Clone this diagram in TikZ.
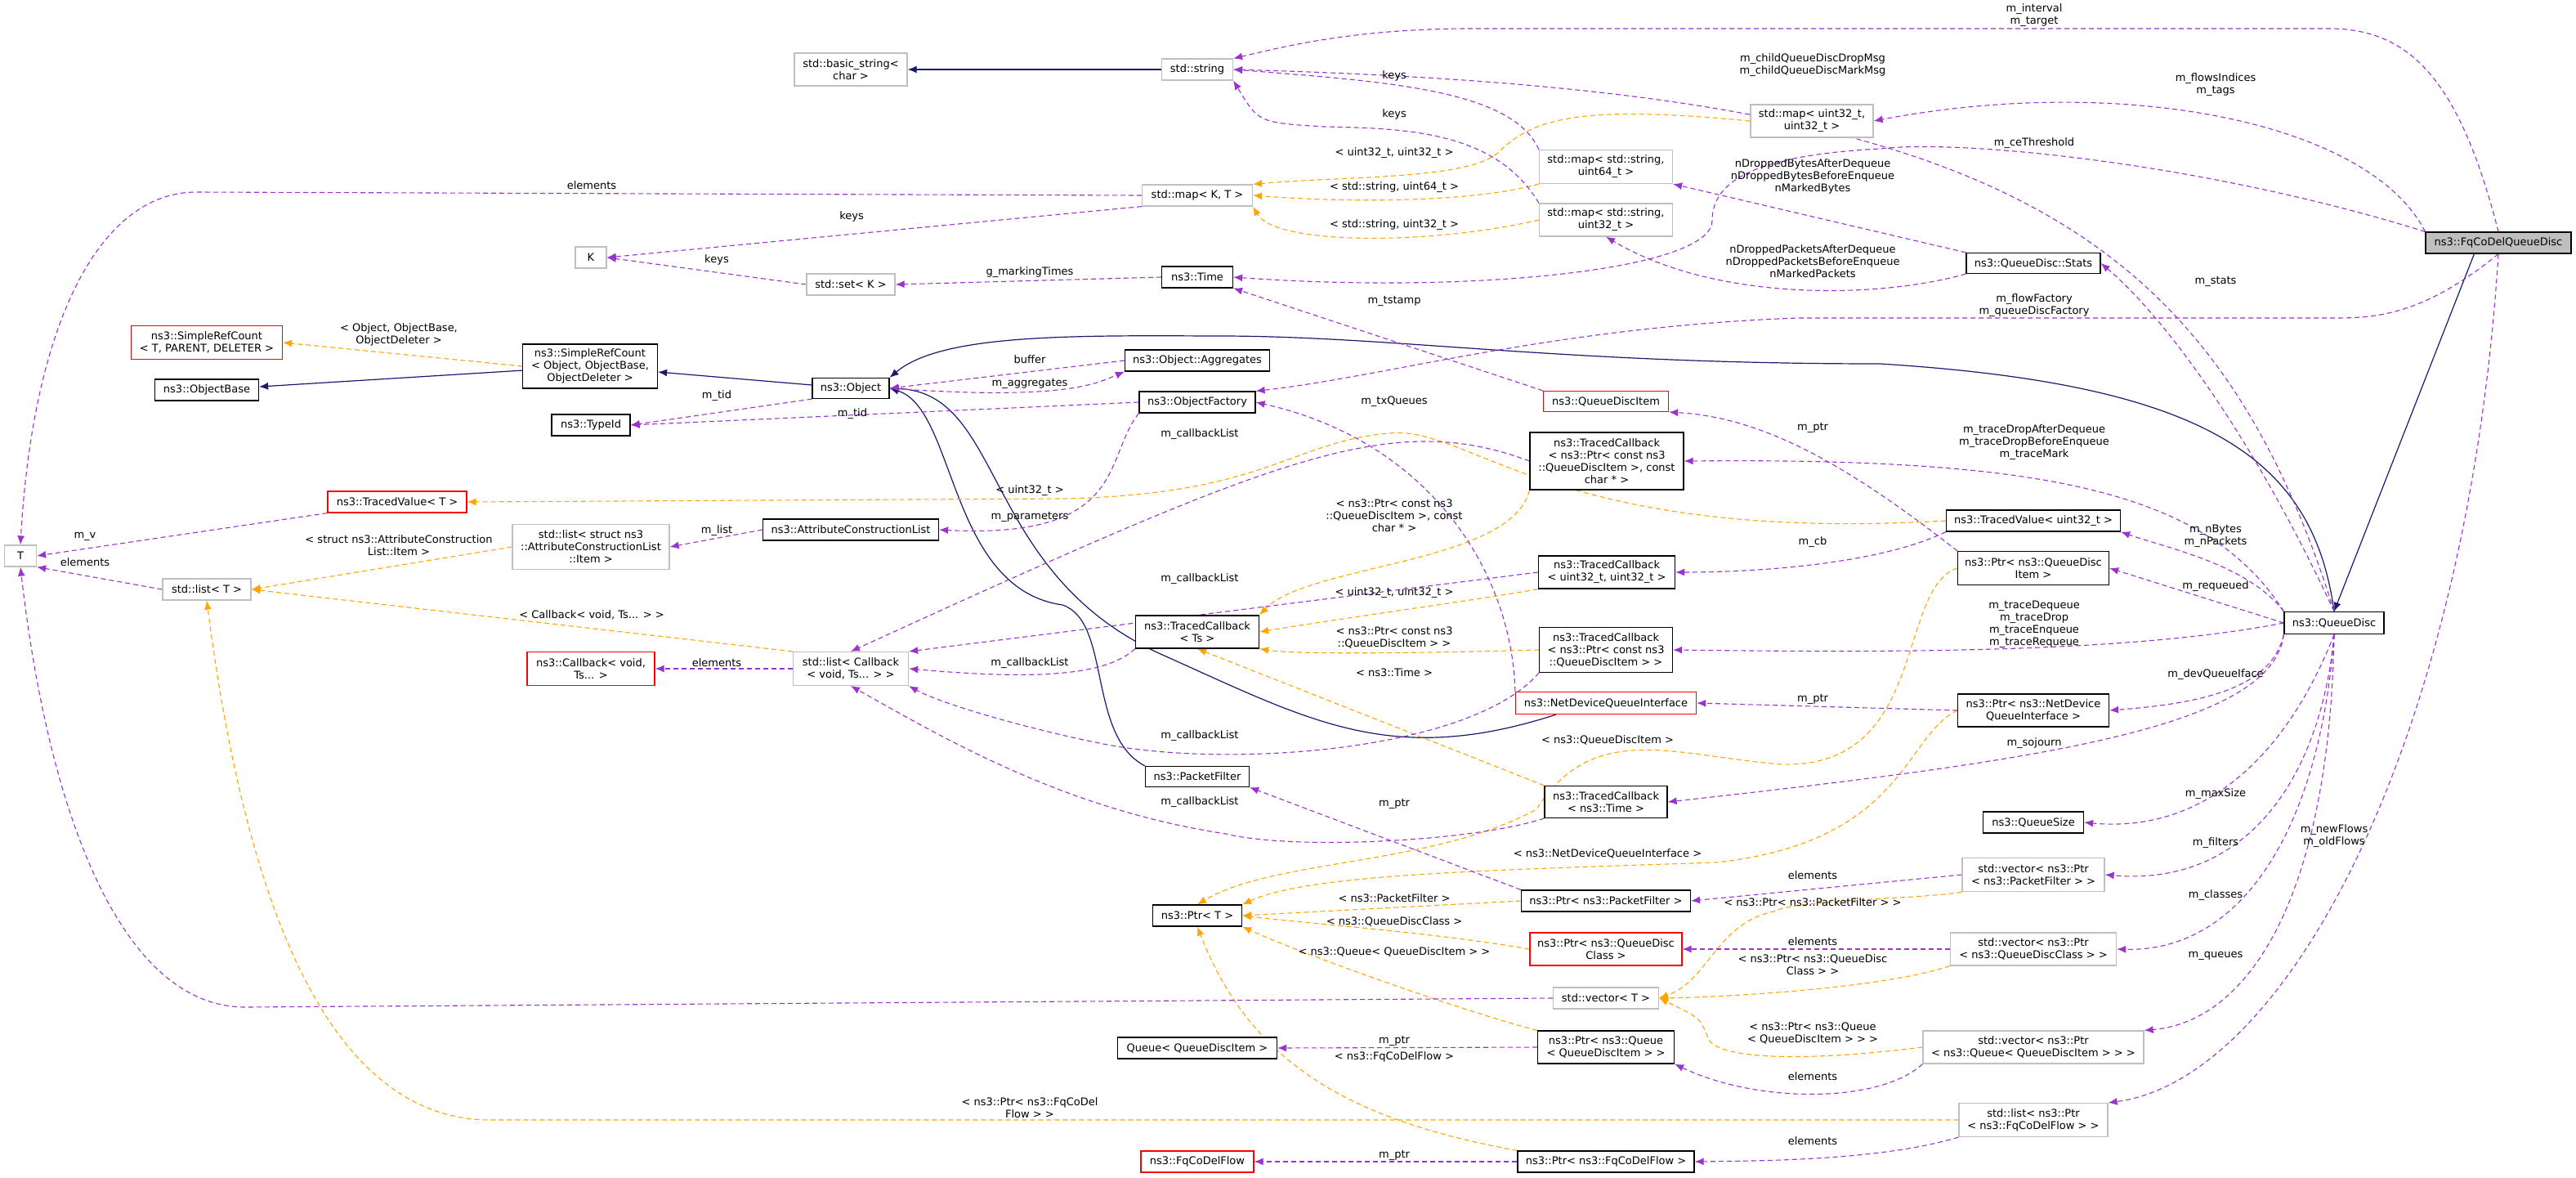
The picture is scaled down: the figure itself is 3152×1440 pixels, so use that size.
\documentclass[tikz,border=0pt]{standalone}
\usepackage{fontspec}
\setmainfont{DejaVu Sans}
\usetikzlibrary{arrows.meta}
\pgfdeclarelayer{bg}
\pgfsetlayers{bg,main}
\definecolor{pur}{HTML}{9A32CD}
\definecolor{org}{HTML}{FFA500}
\definecolor{nav}{HTML}{191970}
\definecolor{gb}{HTML}{BFBFBF}
\begin{document}
\begin{tikzpicture}[x=1pt,y=-1pt,
  base/.style={draw,line width=1.2pt,align=center,inner sep=2pt,font=\fontsize{13}{15}\selectfont,fill=white},
  nb/.style={base,draw=black},
  ng/.style={base,draw=gb},
  nr/.style={base,draw=red},
  lbl/.style={align=center,font=\fontsize{13}{15}\selectfont,inner sep=0pt},
  mem/.style={draw=pur,line width=1.1pt,dash pattern=on 6pt off 4pt,-{Latex[length=11pt,width=9pt]}},
  tpl/.style={draw=org,line width=1.1pt,dash pattern=on 6pt off 4pt,-{Latex[length=11pt,width=9pt]}},
  inh/.style={draw=nav,line width=1.2pt,-{Latex[length=11pt,width=9pt]}}]
\useasboundingbox (0,0) rectangle (3152,1440);
% nodes
\node[ng,minimum width=138,minimum height=40] (bs) at (1041,85) {std::basic\_string\textless\\char \textgreater};
\node[ng,minimum width=87,minimum height=26] (str) at (1465,85) {std::string};
\node[ng,minimum width=135,minimum height=26] (mapKT) at (1465,239) {std::map\textless{} K, T \textgreater};
\node[ng,minimum width=38,minimum height=26] (K) at (723,315) {K};
\node[ng,minimum width=108,minimum height=26] (setK) at (1041,348) {std::set\textless{} K \textgreater};
\node[ng,minimum width=163,minimum height=41] (m64) at (1965,204) {std::map\textless{} std::string,\\uint64\_t \textgreater};
\node[ng,minimum width=163,minimum height=40] (m32) at (1965,269) {std::map\textless{} std::string,\\uint32\_t \textgreater};
\node[ng,minimum width=150,minimum height=40] (mu32) at (2217,148) {std::map\textless{} uint32\_t,\\uint32\_t \textgreater};
\node[nb,minimum width=87,minimum height=26] (time) at (1465,339) {ns3::Time};
\node[nb,minimum width=178,minimum height=26,fill=gb] (fq) at (3057,297) {ns3::FqCoDelQueueDisc};
\node[nb,minimum width=164,minimum height=25] (stats) at (2488,322) {ns3::QueueDisc::Stats};
\node[nr,minimum width=185,minimum height=41] (srcT) at (253,419) {ns3::SimpleRefCount\\\textless{} T, PARENT, DELETER \textgreater};
\node[nb,minimum width=165,minimum height=54] (src) at (722,448) {ns3::SimpleRefCount\\\textless{} Object, ObjectBase,\\ObjectDeleter \textgreater};
\node[nb,minimum width=127,minimum height=26] (ob) at (253,477) {ns3::ObjectBase};
\node[nb,minimum width=94,minimum height=25] (obj) at (1041,475) {ns3::Object};
\node[nb,minimum width=96,minimum height=26] (tid) at (723,520) {ns3::TypeId};
\node[nb,minimum width=177,minimum height=26] (agg) at (1465,441) {ns3::Object::Aggregates};
\node[nb,minimum width=142,minimum height=26] (fac) at (1465,492) {ns3::ObjectFactory};
\node[nr,minimum width=153,minimum height=25] (qdi) at (1965,491) {ns3::QueueDiscItem};
\node[nr,minimum width=170,minimum height=26] (tvT) at (486,614) {ns3::TracedValue\textless{} T \textgreater};
\node[ng,minimum width=39,minimum height=26] (T) at (25,680) {T};
\node[ng,minimum width=192,minimum height=55] (lai) at (723,669) {std::list\textless{} struct ns3\\::AttributeConstructionList\\::Item \textgreater};
\node[nb,minimum width=215,minimum height=26] (acl) at (1041,648) {ns3::AttributeConstructionList};
\node[ng,minimum width=108,minimum height=26] (lT) at (253,721) {std::list\textless{} T \textgreater};
\node[nr,minimum width=156,minimum height=41] (cb) at (723,818) {ns3::Callback\textless{} void,\\Ts... \textgreater};
\node[ng,minimum width=141,minimum height=41] (lcb) at (1041,818) {std::list\textless{} Callback\\\textless{} void, Ts... \textgreater{} \textgreater};
\node[nb,minimum width=188,minimum height=70] (tcc) at (1966,564) {ns3::TracedCallback\\\textless{} ns3::Ptr\textless{} const ns3\\::QueueDiscItem \textgreater, const\\char * \textgreater};
\node[nb,minimum width=167,minimum height=40] (tcu) at (1966,700) {ns3::TracedCallback\\\textless{} uint32\_t, uint32\_t \textgreater};
\node[nb,minimum width=151,minimum height=40] (tcts) at (1465,773) {ns3::TracedCallback\\\textless{} Ts \textgreater};
\node[nb,minimum width=163,minimum height=55] (tcp) at (1965,795) {ns3::TracedCallback\\\textless{} ns3::Ptr\textless{} const ns3\\::QueueDiscItem \textgreater{} \textgreater};
\node[nr,minimum width=221,minimum height=27] (ndqi) at (1965,860) {ns3::NetDeviceQueueInterface};
\node[nb,minimum width=127,minimum height=25] (pf) at (1465,950) {ns3::PacketFilter};
\node[nb,minimum width=150,minimum height=39] (tct) at (1965,981) {ns3::TracedCallback\\\textless{} ns3::Time \textgreater};
\node[nb,minimum width=213,minimum height=26] (tvu) at (2488,637) {ns3::TracedValue\textless{} uint32\_t \textgreater};
\node[nb,minimum width=185,minimum height=41] (pqdi) at (2488,695) {ns3::Ptr\textless{} ns3::QueueDisc\\Item \textgreater};
\node[nb,minimum width=122,minimum height=27] (qd) at (2856,762) {ns3::QueueDisc};
\node[nb,minimum width=185,minimum height=40] (pndqi) at (2488,869) {ns3::Ptr\textless{} ns3::NetDevice\\QueueInterface \textgreater};
\node[nb,minimum width=123,minimum height=26] (qs) at (2488,1006) {ns3::QueueSize};
\node[nb,minimum width=109,minimum height=26] (ptrT) at (1465,1120) {ns3::Ptr\textless{} T \textgreater};
\node[nb,minimum width=207,minimum height=26] (ppf) at (1965,1102) {ns3::Ptr\textless{} ns3::PacketFilter \textgreater};
\node[nr,minimum width=186,minimum height=40] (pqdc) at (1965,1161) {ns3::Ptr\textless{} ns3::QueueDisc\\Class \textgreater};
\node[ng,minimum width=129,minimum height=26] (vT) at (1965,1221) {std::vector\textless{} T \textgreater};
\node[nb,minimum width=195,minimum height=26] (qq) at (1465,1282) {Queue\textless{} QueueDiscItem \textgreater};
\node[nb,minimum width=167,minimum height=40] (pq) at (1965,1281) {ns3::Ptr\textless{} ns3::Queue\\\textless{} QueueDiscItem \textgreater{} \textgreater};
\node[nr,minimum width=138,minimum height=26] (ffl) at (1465,1421) {ns3::FqCoDelFlow};
\node[nb,minimum width=216,minimum height=26] (pfl) at (1965,1421) {ns3::Ptr\textless{} ns3::FqCoDelFlow \textgreater};
\node[ng,minimum width=174,minimum height=41] (vpf) at (2488,1070) {std::vector\textless{} ns3::Ptr\\\textless{} ns3::PacketFilter \textgreater{} \textgreater};
\node[ng,minimum width=203,minimum height=40] (vqdc) at (2488,1161) {std::vector\textless{} ns3::Ptr\\\textless{} ns3::QueueDiscClass \textgreater{} \textgreater};
\node[ng,minimum width=270,minimum height=40] (vq) at (2488,1281) {std::vector\textless{} ns3::Ptr\\\textless{} ns3::Queue\textless{} QueueDiscItem \textgreater{} \textgreater{} \textgreater};
\node[ng,minimum width=182,minimum height=41] (lfl) at (2488,1370) {std::list\textless{} ns3::Ptr\\\textless{} ns3::FqCoDelFlow \textgreater{} \textgreater};
\begin{pgfonlayer}{bg}
\fill[white] (0,0) rectangle (3152,1440);
% inheritance
\draw[inh] (str) -- (bs);
\draw[inh] (src) -- (ob);
\draw[inh] (obj) -- (src);
\draw[inh] (fq.south west) ++(60,0) -- (qd.north) ;
\draw[inh] (qd.north) .. controls (2830,560) and (2700,470) .. (2300,445) .. controls (1900,445) and (1700,410) .. (1480,411) .. controls (1300,410) and (1150,410) .. (obj.north east);
\draw[inh] (ndqi.south west) ++(50,0) .. controls (1700,940) and (1600,880) .. (1420,800) .. controls (1200,700) and (1230,480) .. (obj.east);
\draw[inh] (pf.north west) .. controls (1330,900) and (1360,760) .. (1300,740) .. controls (1160,720) and (1170,500) .. (obj.east);
% templates
\draw[tpl] (src.west) -- (srcT.east);
\draw[tpl] (mu32.west) .. controls (1950,130) and (1880,140) .. (1835,185) .. controls (1800,220) and (1650,215) .. (mapKT.north east);
\draw[tpl] (m64.south west) .. controls (1800,248) and (1650,248) .. (mapKT.east);
\draw[tpl] (m32.west) .. controls (1750,300) and (1560,300) .. (mapKT.south east);
\draw[tpl] (tvu.west) .. controls (1900,665) and (1800,520) .. (1700,530) .. controls (1580,540) and (1550,605) .. (1300,610) -- (tvT.east);
\draw[tpl] (lai.west) -- (lT.east);
\draw[tpl] (lcb.north west) -- (lT.east);
\draw[tpl] (lfl.west) -- (600,1370) .. controls (400,1370) and (300,1100) .. (lT.south);
\draw[tpl] (tcc.south west) .. controls (1850,690) and (1600,690) .. (tcts.north east);
\draw[tpl] (tcu.south west) .. controls (1800,735) and (1650,755) .. (tcts.east);
\draw[tpl] (tcp.west) .. controls (1700,800) and (1580,800) .. (tcts.south east);
\draw[tpl] (tct.north west) -- (tcts.south);
\draw[tpl] (pqdi.west) .. controls (2320,720) and (2360,940) .. (2180,935) .. controls (2050,925) and (1950,880) .. (1880,990) .. controls (1750,1060) and (1560,1050) .. (ptrT.north);
\draw[tpl] (pndqi.west) .. controls (2330,900) and (2330,1030) .. (2100,1055) .. controls (1800,1065) and (1600,1070) .. (ptrT.north east);
\draw[tpl] (ppf.west) -- (ptrT.east);
\draw[tpl] (pqdc.west) .. controls (1750,1140) and (1600,1130) .. (ptrT.east);
\draw[tpl] (pq.north west) .. controls (1800,1240) and (1600,1170) .. (ptrT.south east);
\draw[tpl] (pfl.north west) .. controls (1650,1370) and (1530,1300) .. (ptrT.south);
\draw[tpl] (vpf.south west) .. controls (2350,1100) and (2200,1100) .. (2170,1115) .. controls (2100,1130) and (2090,1200) .. (vT.east);
\draw[tpl] (vqdc.south west) .. controls (2300,1210) and (2100,1220) .. (vT.east);
\draw[tpl] (vq.west) .. controls (2200,1300) and (2100,1295) .. (2090,1270) .. controls (2080,1245) .. (vT.east);
% members
\draw[mem] (mapKT.west) -- (240,235) .. controls (120,235) and (40,400) .. (T.north);
\draw[mem] (mapKT.south west) -- (K.east);
\draw[mem] (setK.west) -- (K.east);
\draw[mem] (time.west) -- (setK.east);
\draw[mem] (tvT.south west) -- (T.east);
\draw[mem] (lT.west) -- (T.south east);
\draw[mem] (vT.west) -- (300,1232) .. controls (150,1232) and (60,1000) .. (T.south);
\draw[mem] (obj.south west) -- (tid.east);
\draw[mem] (fac.west) -- (tid.east);
\draw[mem] (agg.west) -- (obj.east);
\draw[mem] (obj.east) .. controls (1300,490) and (1340,470) .. (agg.south west);
\draw[mem] (acl.west) -- (lai.east);
\draw[mem] (fac.south west) .. controls (1350,560) and (1380,660) .. (acl.east);
\draw[mem] (lcb.west) -- (cb.east);
\draw[mem] (tcc.west) .. controls (1700,500) and (1560,560) .. (lcb.north);
\draw[mem] (tcu.west) -- (lcb.north east);
\draw[mem] (tcts.south west) .. controls (1350,830) and (1250,830) .. (lcb.east);
\draw[mem] (tcp.south west) .. controls (1800,920) and (1500,940) .. (1350,910) .. controls (1250,890) and (1150,860) .. (lcb.south east);
\draw[mem] (tct.south west) .. controls (1800,1030) and (1580,1040) .. (1500,1020) .. controls (1300,990) and (1150,900) .. (lcb.south);
\draw[mem] (fq.north) .. controls (3010,100) and (2950,35) .. (2850,35) -- (1800,35) .. controls (1650,35) and (1560,60) .. (str.north east);
\draw[mem] (qd.north) .. controls (2700,250) and (2400,110) .. (str.east);
\draw[mem] (m64.north west) .. controls (1850,110) and (1700,100) .. (str.east);
\draw[mem] (m32.north west) .. controls (1830,160) and (1720,157) .. (1620,155) .. controls (1540,150) .. (str.south east);
\draw[mem] (fq.north west) .. controls (2900,150) and (2600,90) .. (mu32.east);
\draw[mem] (fq.north west) .. controls (2700,200) and (2400,170) .. (2300,182) .. controls (2150,190) and (2095,220) .. (2095,270) .. controls (2095,330) and (1800,360) .. (time.east);
\draw[mem] (qdi.north west) -- (time.south east);
\draw[mem] (stats.north west) -- (m64.south east);
\draw[mem] (stats.south west) .. controls (2300,365) and (2100,370) .. (m32.south);
\draw[mem] (qd.north) .. controls (2750,520) and (2640,380) .. (stats.east);
\draw[mem] (fq.south) .. controls (2960,390) and (2900,389) .. (2850,389) -- (2200,389) .. controls (1900,400) and (1700,460) .. (fac.north east);
\draw[mem] (ndqi.north west) .. controls (1850,700) and (1750,540) .. (fac.east);
\draw[mem] (pqdi.north west) .. controls (2250,560) and (2150,510) .. (qdi.south east);
\draw[mem] (qd.north west) .. controls (2700,600) and (2500,560) .. (tcc.east);
\draw[mem] (tvu.south west) .. controls (2300,690) and (2150,700) .. (tcu.east);
\draw[mem] (qd.north west) .. controls (2750,690) and (2650,670) .. (tvu.south east);
\draw[mem] (qd.west) -- (pqdi.east);
\draw[mem] (qd.west) .. controls (2600,800) and (2300,798) .. (tcp.east);
\draw[mem] (pndqi.west) -- (ndqi.east);
\draw[mem] (qd.south west) .. controls (2780,840) and (2700,860) .. (pndqi.east);
\draw[mem] (qd.south west) .. controls (2780,890) and (2500,930) .. (tct.east);
\draw[mem] (qd.south) .. controls (2800,920) and (2700,1020) .. (qs.east);
\draw[mem] (ppf.north west) -- (pf.south east);
\draw[mem] (vpf.west) -- (ppf.east);
\draw[mem] (qd.south) .. controls (2840,950) and (2750,1085) .. (vpf.east);
\draw[mem] (vqdc.west) -- (pqdc.east);
\draw[mem] (qd.south) .. controls (2840,1000) and (2750,1165) .. (vqdc.east);
\draw[mem] (pq.west) -- (qq.east);
\draw[mem] (vq.south west) .. controls (2300,1350) and (2150,1350) .. (pq.south east);
\draw[mem] (qd.south) .. controls (2850,1100) and (2750,1250) .. (vq.north east);
\draw[mem] (pfl.west) -- (ffl.east);
\draw[mem] (lfl.south west) .. controls (2300,1420) and (2150,1420) .. (pfl.east);
\draw[mem] (fq.south) .. controls (3020,900) and (2800,1320) .. (lfl.north east);
\end{pgfonlayer}
% labels
\node[lbl] (l1) at (724,227) {elements};
\node[lbl] (l2) at (1042,265) {keys};
\node[lbl] (l3) at (877,318) {keys};
\node[lbl] (l4) at (488,409) {\textless{} Object, ObjectBase,\\ObjectDeleter \textgreater};
\node[lbl] (l5) at (877,484) {m\_tid};
\node[lbl] (l6) at (1043,506) {m\_tid};
\node[lbl] (l7) at (104,656) {m\_v};
\node[lbl] (l8) at (104,688) {elements};
\node[lbl] (l9) at (488,667) {\textless{} struct ns3::AttributeConstruction\\List::Item \textgreater};
\node[lbl] (l10) at (877,649) {m\_list};
\node[lbl] (l11) at (724,752) {\textless{} Callback\textless{} void, Ts... \textgreater{} \textgreater};
\node[lbl] (l12) at (877,811) {elements};
\node[lbl] (l13) at (1706,93) {keys};
\node[lbl] (l14) at (1706,140) {keys};
\node[lbl] (l15) at (1706,187) {\textless{} uint32\_t, uint32\_t \textgreater};
\node[lbl] (l16) at (1706,229) {\textless{} std::string, uint64\_t \textgreater};
\node[lbl] (l17) at (1706,275) {\textless{} std::string, uint32\_t \textgreater};
\node[lbl] (l18) at (1260,333) {g\_markingTimes};
\node[lbl] (l19) at (1706,368) {m\_tstamp};
\node[lbl] (l20) at (1260,440) {buffer};
\node[lbl] (l21) at (1260,469) {m\_aggregates};
\node[lbl] (l22) at (1706,491) {m\_txQueues};
\node[lbl] (l23) at (2489,19) {m\_interval\\m\_target};
\node[lbl] (l24) at (2218,80) {m\_childQueueDiscDropMsg\\m\_childQueueDiscMarkMsg};
\node[lbl] (l25) at (2711,104) {m\_flowsIndices\\m\_tags};
\node[lbl] (l26) at (2489,175) {m\_ceThreshold};
\node[lbl] (l27) at (2218,216) {nDroppedBytesAfterDequeue\\nDroppedBytesBeforeEnqueue\\nMarkedBytes};
\node[lbl] (l28) at (2218,320) {nDroppedPacketsAfterDequeue\\nDroppedPacketsBeforeEnqueue\\nMarkedPackets};
\node[lbl] (l29) at (2711,344) {m\_stats};
\node[lbl] (l30) at (2489,374) {m\_flowFactory\\m\_queueDiscFactory};
\node[lbl] (l31) at (1468,531) {m\_callbackList};
\node[lbl] (l32) at (1260,600) {\textless{} uint32\_t \textgreater};
\node[lbl] (l33) at (1260,632) {m\_parameters};
\node[lbl] (l34) at (1706,631) {\textless{} ns3::Ptr\textless{} const ns3\\::QueueDiscItem \textgreater, const\\char * \textgreater};
\node[lbl] (l35) at (1468,708) {m\_callbackList};
\node[lbl] (l36) at (1706,725) {\textless{} uint32\_t, uint32\_t \textgreater};
\node[lbl] (l37) at (1706,780) {\textless{} ns3::Ptr\textless{} const ns3\\::QueueDiscItem \textgreater{} \textgreater};
\node[lbl] (l38) at (1260,811) {m\_callbackList};
\node[lbl] (l39) at (1706,823) {\textless{} ns3::Time \textgreater};
\node[lbl] (l40) at (1468,900) {m\_callbackList};
\node[lbl] (l41) at (1967,905) {\textless{} ns3::QueueDiscItem \textgreater};
\node[lbl] (l42) at (1468,981) {m\_callbackList};
\node[lbl] (l43) at (1706,983) {m\_ptr};
\node[lbl] (l44) at (2218,523) {m\_ptr};
\node[lbl] (l45) at (2489,541) {m\_traceDropAfterDequeue\\m\_traceDropBeforeEnqueue\\m\_traceMark};
\node[lbl] (l46) at (2218,663) {m\_cb};
\node[lbl] (l47) at (2711,656) {m\_nBytes\\m\_nPackets};
\node[lbl] (l48) at (2711,717) {m\_requeued};
\node[lbl] (l49) at (2489,764) {m\_traceDequeue\\m\_traceDrop\\m\_traceEnqueue\\m\_traceRequeue};
\node[lbl] (l50) at (2711,825) {m\_devQueueIface};
\node[lbl] (l51) at (2218,855) {m\_ptr};
\node[lbl] (l52) at (2489,909) {m\_sojourn};
\node[lbl] (l53) at (2711,971) {m\_maxSize};
\node[lbl] (l54) at (1967,1044) {\textless{} ns3::NetDeviceQueueInterface \textgreater};
\node[lbl] (l55) at (1706,1099) {\textless{} ns3::PacketFilter \textgreater};
\node[lbl] (l56) at (1706,1127) {\textless{} ns3::QueueDiscClass \textgreater};
\node[lbl] (l57) at (1706,1164) {\textless{} ns3::Queue\textless{} QueueDiscItem \textgreater{} \textgreater};
\node[lbl] (l58) at (1706,1273) {m\_ptr};
\node[lbl] (l59) at (1706,1293) {\textless{} ns3::FqCoDelFlow \textgreater};
\node[lbl] (l60) at (1260,1355) {\textless{} ns3::Ptr\textless{} ns3::FqCoDel\\Flow \textgreater{} \textgreater};
\node[lbl] (l61) at (1706,1413) {m\_ptr};
\node[lbl] (l62) at (2711,1031) {m\_filters};
\node[lbl] (l63) at (2856,1023) {m\_newFlows\\m\_oldFlows};
\node[lbl] (l64) at (2218,1071) {elements};
\node[lbl] (l65) at (2218,1104) {\textless{} ns3::Ptr\textless{} ns3::PacketFilter \textgreater{} \textgreater};
\node[lbl] (l66) at (2711,1095) {m\_classes};
\node[lbl] (l67) at (2218,1152) {elements};
\node[lbl] (l68) at (2218,1180) {\textless{} ns3::Ptr\textless{} ns3::QueueDisc\\Class \textgreater{} \textgreater};
\node[lbl] (l69) at (2711,1169) {m\_queues};
\node[lbl] (l70) at (2218,1264) {\textless{} ns3::Ptr\textless{} ns3::Queue\\\textless{} QueueDiscItem \textgreater{} \textgreater{} \textgreater};
\node[lbl] (l71) at (2218,1317) {elements};
\node[lbl] (l72) at (2218,1396) {elements};
\end{tikzpicture}
\end{document}
